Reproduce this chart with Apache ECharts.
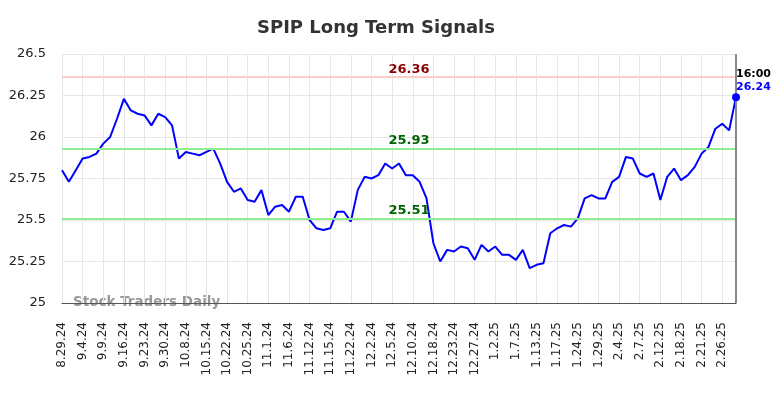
<!DOCTYPE html>
<html>
<head>
<meta charset="utf-8">
<script src="https://cdn.jsdelivr.net/npm/echarts@6/dist/echarts.min.js"></script>
<style>
  html, body { margin: 0; padding: 0; background: #fff; }
  #chart { width: 784px; height: 398px; }
</style>
</head>
<body>
<div id="chart"></div>
<script>
// tick labels, one every 3rd point
const tickLabels = ['8.29.24', '9.4.24', '9.9.24', '9.16.24', '9.23.24', '9.30.24', '10.8.24',
  '10.15.24', '10.22.24', '10.25.24', '11.1.24', '11.6.24', '11.12.24', '11.15.24', '11.22.24',
  '12.2.24', '12.5.24', '12.10.24', '12.18.24', '12.23.24', '12.27.24', '1.2.25', '1.7.25',
  '1.13.25', '1.17.25', '1.24.25', '1.29.25', '2.4.25', '2.7.25', '2.12.25', '2.18.25',
  '2.21.25', '2.26.25']

const prices = [
  25.80, 25.73, 25.80, 25.87, 25.88, 25.90, 25.96, 26.00, 26.11, 26.23,
  26.16, 26.14, 26.13, 26.07, 26.14, 26.12, 26.07, 25.87, 25.91, 25.90,
  25.89, 25.91, 25.93, 25.84, 25.73, 25.67, 25.69, 25.62, 25.61, 25.68,
  25.53, 25.58, 25.59, 25.55, 25.64, 25.64, 25.50, 25.45, 25.44, 25.45,
  25.55, 25.55, 25.49, 25.68, 25.76, 25.75, 25.77, 25.84, 25.81, 25.84,
  25.77, 25.77, 25.73, 25.63, 25.36, 25.25, 25.32, 25.31, 25.34, 25.33,
  25.26, 25.35, 25.31, 25.34, 25.29, 25.29, 25.26, 25.32, 25.21, 25.23,
  25.24, 25.42, 25.45, 25.47, 25.46, 25.51, 25.63, 25.65, 25.63, 25.63,
  25.73, 25.76, 25.88, 25.87, 25.78, 25.76, 25.78, 25.62, 25.76, 25.81,
  25.74, 25.77, 25.82, 25.90, 25.94, 26.05, 26.08, 26.04, 26.24
]

const resistance = 26.36
const supports = [25.93, 25.51]
const lastTime = '16:00'

// one category per point; only every 3rd carries a date
const categories = prices.map((v, i) => (i % 3 === 0 && tickLabels[i / 3]) ? tickLabels[i / 3] : '#' + i)
const lastIdx = prices.length - 1

const lineLabel = (color) => ({
  position: 'insideMiddleTop',
  color: color,
  fontWeight: 'bold',
  fontSize: 13,
  fontFamily: 'DejaVu Sans',
  distance: 1,
  offset: [10, 0]
})

const chart = echarts.init(document.getElementById('chart'))
chart.setOption({
  animation: false,
  title: {
    text: 'SPIP Long Term Signals',
    left: 252,
    top: 14,
    textStyle: { fontSize: 18, fontWeight: 'bold', color: '#333', fontFamily: 'DejaVu Sans' }
  },
  grid: { left: 62, right: 48, top: 54, bottom: 95 },
  xAxis: {
    type: 'category',
    data: categories,
    boundaryGap: false,
    axisLine: { lineStyle: { color: '#555', width: 1 } },
    axisTick: { show: false },
    axisLabel: {
      interval: (i) => i % 3 === 0,
      rotate: 90,
      margin: 19,
      fontSize: 12,
      color: '#222',
      fontFamily: 'DejaVu Sans',
      formatter: (v) => v.charAt(0) === '#' ? '' : v
    },
    splitLine: {
      show: true,
      interval: (i) => i % 3 === 0,
      lineStyle: { color: '#e6e6e6', width: 1 }
    }
  },
  yAxis: {
    type: 'value',
    min: 25,
    max: 26.5,
    interval: 0.25,
    axisLine: { show: false },
    axisTick: { show: false },
    axisLabel: { fontSize: 13, color: '#222', fontFamily: 'DejaVu Sans', margin: 16 },
    splitLine: { lineStyle: { color: '#e6e6e6', width: 1 } }
  },
  graphic: [{
    type: 'text',
    left: 73,
    top: 295,
    style: { text: 'Stock Traders Daily', fontSize: 13.5, fontWeight: 'bold', fill: '#999', fontFamily: 'DejaVu Sans' }
  }],
  series: [{
    type: 'line',
    data: prices,
    symbol: 'none',
    lineStyle: { color: '#0000ff', width: 2 },
    markLine: {
      silent: true,
      symbol: 'none',
      data: [
        {
          yAxis: resistance,
          lineStyle: { color: '#ffcccc', width: 2, type: 'solid' },
          label: Object.assign(lineLabel('#8b0000'), { formatter: resistance.toFixed(2) })
        },
        ...supports.map(s => ({
          yAxis: s,
          lineStyle: { color: '#90ee90', width: 2, type: 'solid' },
          label: Object.assign(lineLabel('#006400'), { formatter: s.toFixed(2) })
        })),
        {
          xAxis: lastIdx,
          lineStyle: { color: '#888', width: 2, type: 'solid' },
          label: { show: false }
        }
      ]
    },
    markPoint: {
      silent: true,
      symbol: 'circle',
      symbolSize: 8,
      itemStyle: { color: '#0000ff' },
      data: [{
        coord: [lastIdx, prices[lastIdx]],
        label: {
          show: true,
          position: [4, -26],
          align: 'left',
          formatter: '{t|' + lastTime + '}\n{v|' + prices[lastIdx].toFixed(2) + '}',
          rich: {
            t: { color: '#000', fontWeight: 'bold', fontSize: 11, lineHeight: 13, fontFamily: 'DejaVu Sans' },
            v: { color: '#0000ff', fontWeight: 'bold', fontSize: 11, lineHeight: 13, fontFamily: 'DejaVu Sans' }
          }
        }
      }]
    }
  }]
})
</script>
</body>
</html>
